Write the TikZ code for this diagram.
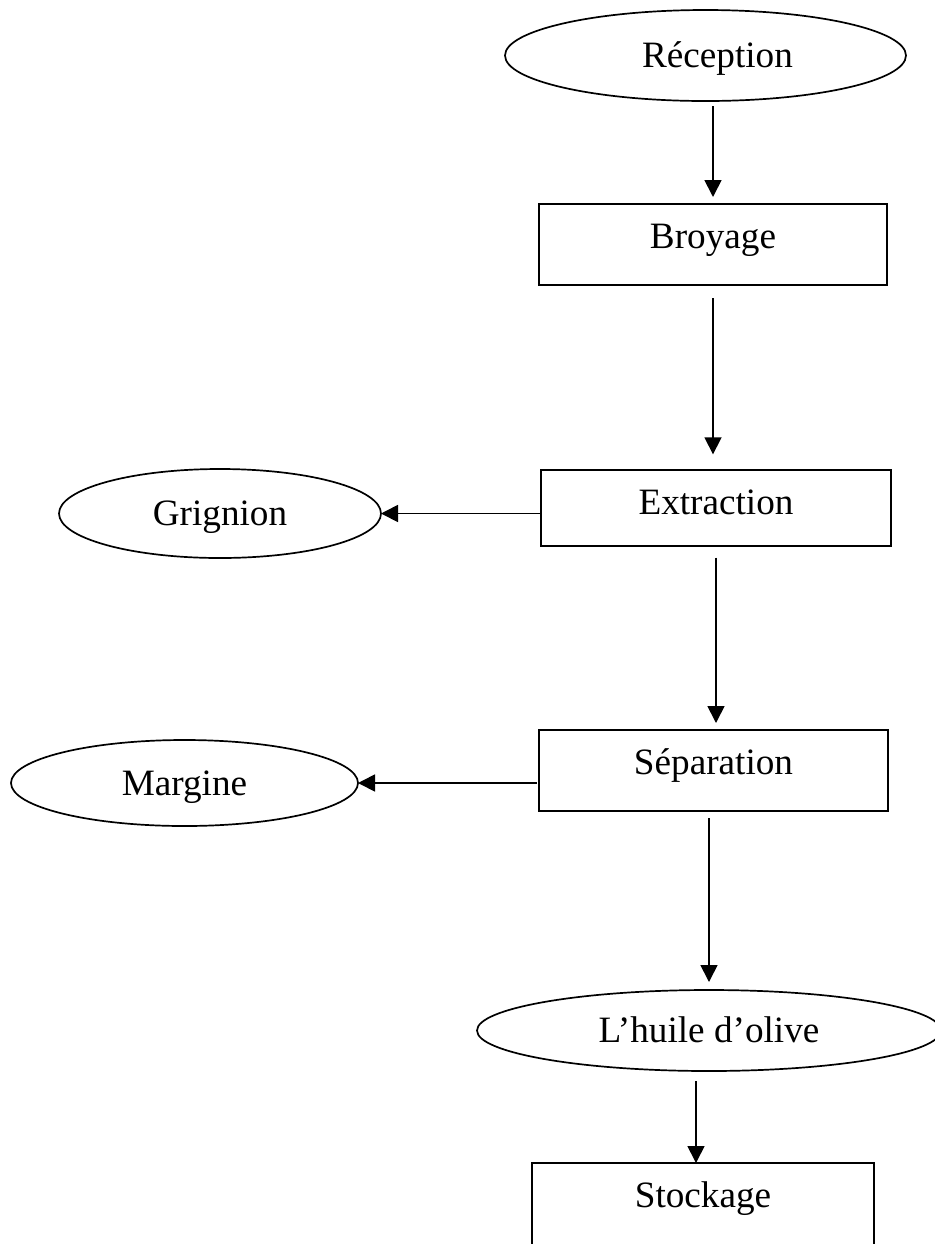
\documentclass[tikz,border=0pt]{standalone}
\usepackage{fontspec}
\setmainfont{Liberation Serif}
\usetikzlibrary{shapes.geometric, arrows.meta}

\tikzset{
  box/.style={draw, rectangle, line width=0.85pt, inner sep=0pt, outer sep=0pt,
    text height=22.2pt, text depth=18.3pt},
  oval/.style={draw, ellipse, line width=0.85pt, inner sep=0pt, outer sep=0pt,
    text height=12.2pt, text depth=0pt},
  flow/.style={line width=0.85pt, -{Triangle[length=8.5pt, width=8.5pt]}}
}

\begin{document}
\begin{tikzpicture}[x=0.5pt, y=-0.5pt, font=\fontsize{18.6}{22}\selectfont]
    \useasboundingbox (0,0) rectangle (935,1244);

    \node[oval, minimum width=200.5pt, minimum height=45.5pt] (rec) at (705.5,55.5) {\hspace*{12pt}Réception};
    \node[box, minimum width=174pt] (broy) at (713,244.5) {Broyage};
    \node[box, minimum width=175pt, text depth=15.5pt] (extr) at (716,508) {Extraction};
    \node[oval, minimum width=161pt, minimum height=44.5pt] (grig) at (220,513.5) {Grignion};
    \node[box, minimum width=174.5pt] (sep) at (713.5,770.5) {Séparation};
    \node[oval, minimum width=173.5pt, minimum height=43pt] (marg) at (184.5,783) {Margine};
    \node[oval, minimum width=232pt, minimum height=40.5pt] (huile) at (709,1030.5) {L’huile d’olive};
    \node[box, minimum width=171pt, text depth=19.8pt] (stock) at (703,1205) {Stockage};

    \draw[flow, shorten <=2.5pt, shorten >=3.5pt] (broy.north |- rec.south) -- (broy.north);
    \draw[flow, shorten <=6.5pt, shorten >=8pt] (broy.south) -- (broy.south |- extr.north);
    \draw[flow] (extr.west |- grig.east) -- (grig.east);
    \draw[flow, shorten <=6pt, shorten >=3.5pt] (extr.south) -- (extr.south |- sep.north);
    \draw[flow, shorten <=1pt] (sep.west |- marg.east) -- (marg.east);
    \draw[flow, shorten <=3.5pt, shorten >=4pt] (huile.north |- sep.south) -- (huile.north);
    \draw[flow, shorten <=5pt] ([xshift=-3.5pt]stock.north |- huile.south) -- ([xshift=-3.5pt]stock.north);
\end{tikzpicture}
\end{document}
